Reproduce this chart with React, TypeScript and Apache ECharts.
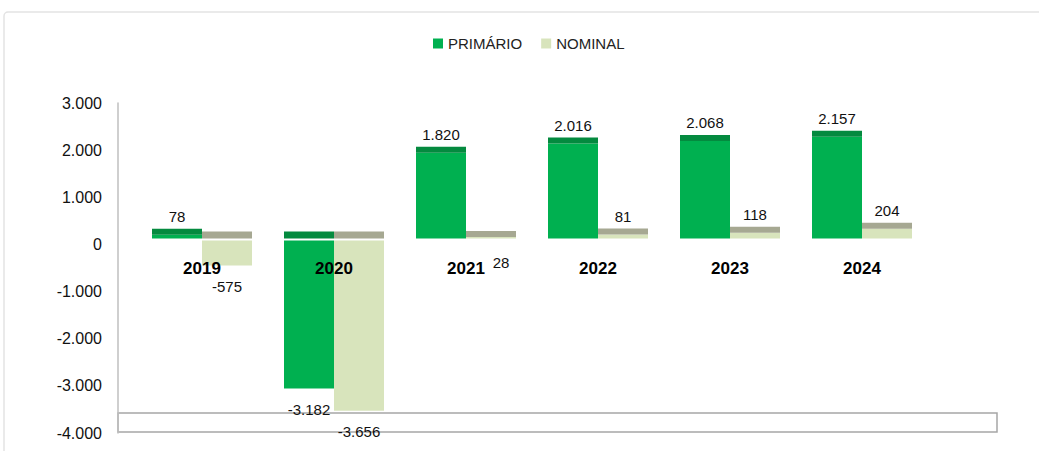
import React, { useEffect, useRef } from 'react';
import * as echarts from 'echarts';

const categories = ['2019', '2020', '2021', '2022', '2023', '2024'];
const primario = [78, -3182, 1820, 2016, 2068, 2157];
const nominal = [-575, -3656, 28, 81, 118, 204];
const yMin = -4000;
const yMax = 3000;
const yInterval = 1000;

const FONT = '"Liberation Sans", Arial, sans-serif';

function fmt(v: number): string {
  const s = Math.abs(Math.round(v)).toString().replace(/\B(?=(\d{3})+(?!\d))/g, '.');
  return (v < 0 ? '-' : '') + s;
}

function makeRender(side: 'left' | 'right', front: string, cap: string) {
  return (params: any, api: any) => {
    const i = api.value(0);
    const v = api.value(1);
    const bw = 50;
    const c = api.coord([i, 0]);
    const t = api.coord([i, v]);
    const depth = 6;
    const x = side === 'left' ? c[0] - bw : c[0];
    const cx = x + bw / 2;
    const y0 = c[1] - depth;
    const y1 = t[1] - depth;
    const children: any[] = [];
    let lx = cx;
    let ly: number;
    if (v >= 0) {
      children.push({ type: 'rect', shape: { x, y: y1, width: bw, height: Math.max(y0 - y1, 0) }, style: { fill: front } });
      children.push({ type: 'rect', shape: { x, y: y1 - 6, width: bw, height: 6 }, style: { fill: cap } });
      if (side === 'right' && v < 50) {
        lx = cx + 10;
        ly = y0 + 24;
      } else {
        ly = y1 - 18;
      }
    } else {
      children.push({ type: 'rect', shape: { x, y: y0 - 7, width: bw, height: 7 }, style: { fill: cap } });
      children.push({ type: 'rect', shape: { x, y: y0 + 2, width: bw, height: y1 - (y0 + 2) }, style: { fill: front } });
      ly = y1 + 21;
    }
    children.push({
      type: 'text',
      z2: 20,
      style: {
        text: fmt(v),
        x: lx,
        y: ly,
        align: 'center',
        verticalAlign: 'middle',
        fill: '#111',
        fontSize: 15,
        fontFamily: FONT,
      },
    });
    if (side === 'right') {
      // category label drawn at the zero line (Excel-like axis crossing)
      children.push({
        type: 'text',
        z2: 30,
        style: {
          text: categories[i],
          x: c[0],
          y: c[1] + 24,
          align: 'center',
          verticalAlign: 'middle',
          fill: '#000',
          fontSize: 17,
          fontWeight: 'bold',
          fontFamily: FONT,
        },
      });
    }
    return { type: 'group', children };
  };
}

export default function App() {
  const ref = useRef<HTMLDivElement>(null);
  useEffect(() => {
    if (!ref.current) return;
    const chart = echarts.init(ref.current, undefined, { renderer: 'svg' });
    chart.setOption({
      animation: false,
      backgroundColor: '#ffffff',
      legend: {
        top: 31,
        left: 428,
        icon: 'rect',
        itemWidth: 10,
        itemHeight: 10,
        itemGap: 19,
        textStyle: { fontFamily: FONT, fontSize: 15, color: '#222' },
        data: ['PRIMÁRIO', 'NOMINAL'],
      },
      grid: { left: 136, right: 111, top: 103, bottom: 18, outerBoundsMode: 'none', containLabel: false },
      xAxis: {
        type: 'category',
        data: categories,
        axisLine: { show: false },
        axisTick: { show: false },
        axisLabel: { show: false },
        splitLine: { show: false },
      },
      yAxis: {
        type: 'value',
        min: yMin,
        max: yMax,
        interval: yInterval,
        offset: 18,
        axisLine: { show: true, lineStyle: { color: '#bfbfbf', width: 1.5 } },
        axisTick: { show: false },
        splitLine: { show: false },
        axisLabel: { margin: 16, fontFamily: FONT, fontSize: 16, color: '#111', formatter: (v: number) => fmt(v) },
      },
      graphic: [
        {
          type: 'rect',
          z: 0,
          shape: { x: 4, y: 12, width: 1045, height: 445, r: 4 },
          style: { fill: 'none', stroke: '#e3e3e3', lineWidth: 1.5 },
        },
        {
          type: 'rect',
          z: 0,
          shape: { x: 118, y: 413, width: 879, height: 19 },
          style: { fill: 'none', stroke: '#a6a6a6', lineWidth: 1.5 },
        },
      ],
      series: [
        {
          name: 'PRIMÁRIO',
          type: 'custom',
          itemStyle: { color: '#00b050' },
          encode: { x: 0, y: 1 },
          data: primario.map((v, i) => [i, v]),
          renderItem: makeRender('left', '#00b050', '#048a3f'),
          clip: false,
          z: 3,
        },
        {
          name: 'NOMINAL',
          type: 'custom',
          itemStyle: { color: '#d8e4bc' },
          encode: { x: 0, y: 1 },
          data: nominal.map((v, i) => [i, v]),
          renderItem: makeRender('right', '#d8e4bc', '#a6a892'),
          clip: false,
          z: 4,
        },
      ],
    });
    return () => chart.dispose();
  }, []);
  return <div ref={ref} style={{ position: 'fixed', left: 0, top: 0, width: 1039, height: 451 }} />;
}
